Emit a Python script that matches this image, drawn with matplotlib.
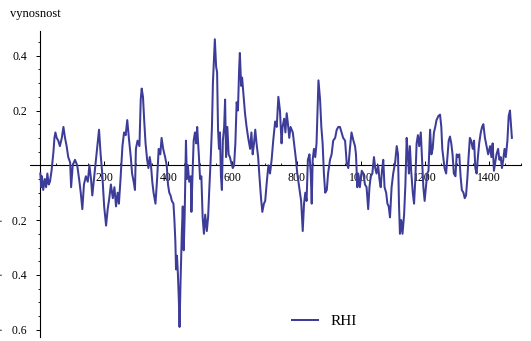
import numpy as np
import matplotlib
matplotlib.use("Agg")
import matplotlib.pyplot as plt
from matplotlib.ticker import FixedLocator, MultipleLocator, FixedFormatter

# Daily return series (day index, value)
day = [
    1, 4, 6, 10, 15, 19, 23, 27, 31, 36, 42, 45, 48, 52, 57, 62, 68, 73, 78, 83,
    88, 94, 97, 102, 109, 116, 123, 127, 132, 137, 143, 149, 154, 159, 163, 169, 177, 184, 189, 194,
    200, 206, 211, 216, 221, 227, 232, 237, 242, 246, 251, 257, 262, 267, 272, 277, 283, 287, 292, 296,
    299, 304, 310, 314, 317, 321, 325, 329, 334, 338, 342, 346, 350, 354, 360, 365, 370, 375, 379, 384,
    390, 395, 399, 403, 407, 411, 416, 419, 422, 424, 427, 430, 433, 435, 438, 442, 445, 448, 451, 455,
    458, 461, 465, 470, 472, 475, 479, 483, 487, 490, 495, 499, 503, 507, 511, 515, 520, 524, 528, 532,
    536, 539, 542, 545, 549, 552, 555, 558, 561, 564, 567, 570, 574, 577, 580, 584, 588, 592, 596, 601,
    605, 609, 613, 617, 621, 623, 627, 630, 634, 639, 644, 649, 655, 659, 663, 667, 671, 675, 680, 684,
    689, 693, 698, 702, 707, 712, 717, 722, 727, 733, 738, 743, 748, 753, 756, 761, 765, 769, 773, 777,
    781, 788, 792, 798, 802, 808, 814, 819, 823, 827, 831, 835, 840, 844, 847, 850, 854, 858, 862, 868,
    873, 877, 881, 885, 889, 894, 898, 904, 909, 914, 920, 925, 930, 935, 940, 945, 951, 956, 961, 966,
    971, 977, 982, 985, 989, 992, 997, 1003, 1008, 1013, 1018, 1023, 1027, 1031, 1036, 1041, 1045, 1049, 1054, 1058,
    1062, 1066, 1070, 1074, 1079, 1083, 1087, 1091, 1096, 1101, 1107, 1112, 1116, 1119, 1122, 1126, 1130, 1135, 1139, 1143,
    1147, 1150, 1153, 1157, 1162, 1166, 1170, 1174, 1178, 1182, 1187, 1191, 1195, 1199, 1203, 1207, 1211, 1216, 1220, 1224,
    1228, 1232, 1236, 1242, 1247, 1251, 1254, 1257, 1261, 1266, 1270, 1274, 1278, 1282, 1286, 1290, 1295, 1299, 1303, 1307,
    1311, 1315, 1320, 1324, 1328, 1332, 1336, 1340, 1344, 1349, 1353, 1357, 1361, 1365, 1369, 1374, 1378, 1382, 1387, 1392,
    1397, 1403, 1407, 1411, 1415, 1419, 1423, 1428, 1432, 1436, 1440, 1444, 1448, 1452, 1457, 1461, 1465, 1468, 1471,
]

rhi = [
    -0.03, -0.08, -0.04, -0.09, -0.05, -0.08, -0.03, -0.07, -0.06, -0.02, 0.05, 0.10, 0.12, 0.10, 0.09, 0.07, 0.10, 0.14, 0.10, 0.07,
    0.03, 0.01, -0.08, 0.00, 0.02, 0.00, -0.06, -0.10, -0.16, -0.07, -0.04, -0.06, 0.00, -0.05, -0.11, -0.04, 0.05, 0.13, 0.04, -0.03,
    -0.15, -0.22, -0.16, -0.12, -0.07, -0.12, -0.08, -0.15, -0.10, -0.14, -0.05, 0.07, 0.12, 0.11, 0.165, 0.10, 0.03, -0.03, -0.06, -0.09,
    0.06, 0.09, 0.07, 0.24, 0.28, 0.25, 0.16, 0.08, 0.02, -0.01, 0.03, 0.00, -0.06, -0.10, -0.14, -0.05, 0.06, 0.04, 0.10, 0.06,
    0.03, 0.00, -0.07, -0.10, -0.11, -0.13, -0.14, -0.20, -0.28, -0.38, -0.33, -0.40, -0.50, -0.59, -0.43, -0.25, -0.15, -0.31, -0.18, 0.09,
    -0.05, 0.00, -0.06, -0.04, -0.17, -0.05, 0.09, 0.12, 0.08, 0.14, 0.04, -0.05, -0.04, -0.19, -0.25, -0.18, -0.24, -0.19, -0.08, 0.02,
    0.14, 0.30, 0.38, 0.46, 0.36, 0.34, 0.13, 0.06, 0.12, -0.04, -0.09, 0.09, 0.14, 0.24, 0.03, 0.14, 0.04, 0.03, 0.01, -0.01,
    0.00, 0.08, 0.23, 0.20, 0.36, 0.41, 0.29, 0.32, 0.26, 0.19, 0.14, 0.10, 0.06, 0.12, 0.04, 0.08, 0.13, 0.08, 0.03, -0.04,
    -0.12, -0.17, -0.14, -0.13, -0.06, 0.00, -0.03, 0.02, 0.09, 0.16, 0.14, 0.25, 0.20, 0.08, 0.14, 0.17, 0.12, 0.19, 0.15, 0.10,
    0.14, 0.12, 0.08, 0.02, -0.03, -0.08, -0.13, -0.24, -0.14, -0.10, -0.13, 0.02, 0.04, -0.03, -0.14, 0.02, 0.06, 0.03, 0.08, 0.31,
    0.24, 0.14, 0.08, -0.03, -0.10, -0.09, -0.03, 0.02, 0.04, 0.09, 0.10, 0.13, 0.14, 0.14, 0.12, 0.10, 0.09, 0.01, -0.01, 0.06,
    0.12, 0.09, 0.07, 0.04, -0.08, -0.03, -0.08, -0.02, -0.03, -0.07, -0.08, -0.16, -0.08, -0.04, -0.03, 0.03, -0.01, -0.03, 0.00, -0.05,
    -0.08, -0.02, 0.02, -0.08, -0.10, -0.14, -0.15, -0.19, -0.08, -0.03, 0.01, 0.07, 0.04, -0.14, -0.25, -0.20, -0.25, -0.18, -0.07, 0.10,
    0.03, -0.03, 0.07, -0.02, -0.10, -0.14, -0.05, 0.08, 0.11, 0.07, 0.12, 0.02, -0.08, -0.13, -0.08, -0.03, -0.02, 0.13, 0.04, 0.06,
    0.12, 0.14, 0.165, 0.18, 0.185, 0.14, 0.06, 0.03, -0.01, -0.03, 0.03, 0.09, 0.105, 0.08, 0.04, -0.03, -0.04, 0.04, 0.03, 0.04,
    -0.04, -0.09, -0.10, -0.12, -0.11, -0.05, 0.03, 0.10, 0.09, 0.06, 0.09, -0.01, -0.03, 0.03, 0.08, 0.12, 0.14, 0.15, 0.10, 0.07,
    0.04, 0.07, 0.03, 0.08, -0.02, 0.01, 0.04, 0.06, 0.02, 0.03, -0.01, 0.02, 0.06, 0.03, 0.09, 0.18, 0.20, 0.15, 0.10,
]

x_ticks = [200, 400, 600, 800, 1000, 1200, 1400]
y_ticks = [-0.6, -0.4, -0.2, 0.2, 0.4]
y_tick_labels = ["\u00b7   0.6", "\u00b7   0.4", "\u00b7   0.2", "0.2", "0.4"]
series_name = "RHI"
y_title = "vynosnost"

W, H = 531, 341
serif = ["Liberation Serif", "DejaVu Serif"]
plt.rcParams["font.family"] = serif

fig = plt.figure(figsize=(W / 100, H / 100), dpi=100)

# axes frame: x from -31 to 1500, y from -0.628 to 0.49
x0, x1 = -31, 1500
y0, y1 = -0.628, 0.49
px_per_x = 0.3208
px_per_y = 274.0
left_px = 40.0 + x0 * px_per_x
right_px = 40.0 + x1 * px_per_x
top_px = 165.3 - y1 * px_per_y
bottom_px = 165.3 - y0 * px_per_y
ax = fig.add_axes([left_px / W, 1 - bottom_px / H,
                   (right_px - left_px) / W, (bottom_px - top_px) / H])
ax.set_xlim(x0, x1)
ax.set_ylim(y0, y1)
ax.patch.set_alpha(0)

line_color = "#3d3d99"
line, = ax.plot(day, rhi, color=line_color, lw=1.45, zorder=3,
                solid_joinstyle="round")

for s in ["top", "right"]:
    ax.spines[s].set_visible(False)
ax.spines["left"].set_position(("data", 0))
ax.spines["bottom"].set_position(("data", 0))
for s in ["left", "bottom"]:
    ax.spines[s].set_linewidth(0.8)
    ax.spines[s].set_color("black")

ax.xaxis.set_major_locator(FixedLocator(x_ticks))
ax.xaxis.set_minor_locator(MultipleLocator(50))
ax.set_xticklabels([str(v) for v in x_ticks])
ax.yaxis.set_major_locator(FixedLocator(y_ticks))
ax.yaxis.set_major_formatter(FixedFormatter(y_tick_labels))
ax.yaxis.set_minor_locator(MultipleLocator(0.05))

ax.tick_params(axis="x", which="major", direction="in", length=3.2, width=0.7,
               pad=5, labelsize=8.5)
ax.tick_params(axis="x", which="minor", direction="in", length=1.8, width=0.6)
ax.tick_params(axis="y", which="major", direction="out", length=3.0, width=0.7,
               pad=6.5, labelsize=8.5)
ax.tick_params(axis="y", which="minor", direction="out", length=1.8, width=0.6)

fig.text(10 / W, 1 - 17 / H, y_title, ha="left", va="baseline", fontsize=9)

ax.legend([line], [series_name], loc="center left", frameon=False,
          bbox_to_anchor=(292 / W, 1 - 321 / H), bbox_transform=fig.transFigure,
          borderpad=0, borderaxespad=0, handlelength=1.7, handletextpad=0.8,
          fontsize=11)

fig.savefig("out.png", dpi=100)
